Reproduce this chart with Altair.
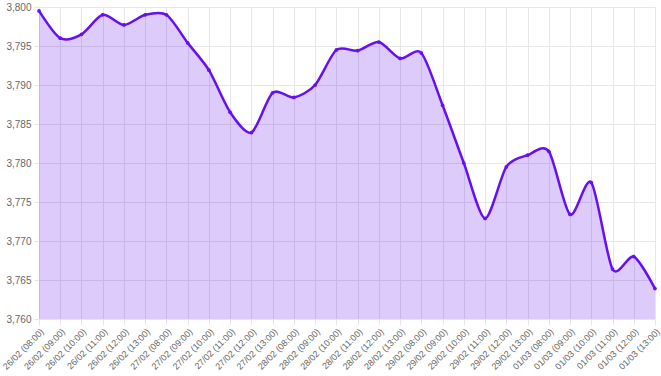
import altair as alt
import pandas as pd
import json

days = ["26/02", "27/02", "28/02", "29/02", "01/03"]
hours = ["08:00", "09:00", "10:00", "11:00", "12:00", "13:00"]
labels = [f"{d} ({h})" for d in days for h in hours]
values = [
    3.7995, 3.7960, 3.7965, 3.7990, 3.7977, 3.7990,
    3.7990, 3.7954, 3.7919, 3.7865, 3.7839, 3.7890,
    3.7884, 3.7900, 3.7945, 3.7944, 3.7955, 3.7934,
    3.7941, 3.7874, 3.7800, 3.7729, 3.7795, 3.7810,
    3.7815, 3.7734, 3.7775, 3.7664, 3.7680, 3.7639,
]

df = pd.DataFrame({"idx": list(range(len(labels))), "label": labels, "value": values})

line_color = "#6610f2"

x = alt.X("idx:Q", scale=alt.Scale(domain=[0, len(labels) - 1], nice=False, zero=False),
          axis=alt.Axis(title=None, values=list(range(len(labels))),
                        labelExpr=json.dumps(labels) + "[datum.value]",
                        labelAngle=-45, labelFontSize=9, labelColor="#666",
                        labelFont="Liberation Sans", grid=True, gridColor="#e6e6e6",
                        tickColor="#e6e6e6", tickSize=6, domain=False, labelPadding=2,
                        labelOverlap=False, labelFlush=False, labelBound=False))
y = alt.Y("value:Q", stack=None, scale=alt.Scale(domain=[3.76, 3.80], nice=False, zero=False),
          axis=alt.Axis(title=None, values=[3.76, 3.765, 3.77, 3.775, 3.78, 3.785, 3.79, 3.795, 3.80],
                        labelExpr="replace(format(datum.value, '.3f'), '.', ',')",
                        labelFontSize=10, labelColor="#666", labelFont="Liberation Sans",
                        gridColor="#e6e6e6", tickColor="#e6e6e6", tickSize=5, domain=False,
                        labelPadding=3, labelFlush=False))

base = alt.Chart(df).encode(x=x, y=y)

area = base.mark_area(color=line_color, opacity=0.22, interpolate="cardinal", tension=0.2).encode(
    y2=alt.Y2(datum=3.76))
line = base.mark_line(color=line_color, strokeWidth=2.5, interpolate="cardinal", tension=0.2)
pts = base.mark_point(color=line_color, filled=True, size=14, opacity=1)

chart = (area + line + pts).properties(
    width=616, height=312,
    autosize=alt.AutoSizeParams(type="none"),
    padding={"left": 39, "top": 7, "right": 6, "bottom": 57},
).configure_view(stroke=None)

chart.save("out.html", embed_options={"renderer": "svg", "actions": False})
